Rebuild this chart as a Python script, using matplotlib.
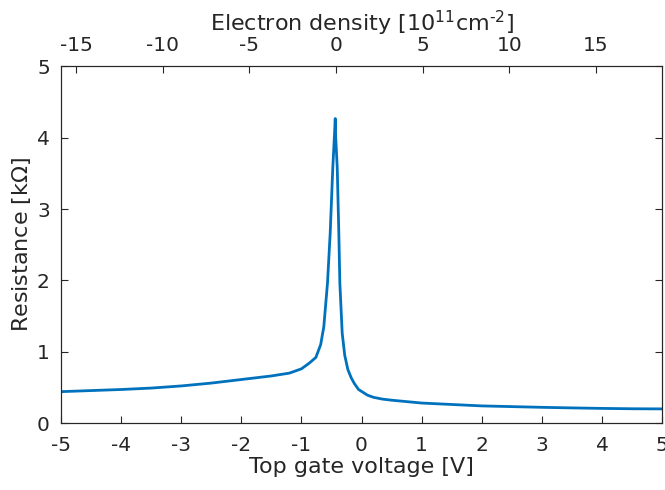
import numpy as np
import matplotlib
matplotlib.use("Agg")
import matplotlib.pyplot as plt

# Data
gate_v = [-5, -4.5, -4, -3.5, -3, -2.5, -2, -1.5, -1.2, -1.0, -0.87, -0.76, -0.68,
          -0.628, -0.567, -0.522, -0.478, -0.45, -0.438, -0.43, -0.405, -0.378,
          -0.361, -0.322, -0.28, -0.228, -0.17, -0.117, -0.05, 0.1, 0.2, 0.35, 0.5,
          0.75, 1, 1.5, 2, 2.5, 3, 3.5, 4, 4.5, 5]
resistance = [0.44, 0.455, 0.47, 0.49, 0.52, 0.56, 0.61, 0.66, 0.70, 0.76, 0.84, 0.92, 1.1,
              1.35, 1.96, 2.66, 3.59, 4.05, 4.27, 4.0, 3.59, 2.66,
              1.96, 1.26, 0.95, 0.75, 0.63, 0.55, 0.47, 0.39, 0.36, 0.335, 0.32,
              0.30, 0.28, 0.26, 0.24, 0.23, 0.22, 0.212, 0.205, 0.2, 0.198]
density_ticks = [-15, -10, -5, 0, 5, 10, 15]
density_lim = (-15.88, 18.82)

gray = '#262626'
plt.rcParams['font.family'] = 'DejaVu Sans'
plt.rcParams['mathtext.default'] = 'regular'
plt.rcParams['axes.unicode_minus'] = False
plt.rcParams['font.size'] = 14

fig = plt.figure(figsize=(6.65, 4.9), dpi=100)
ax = fig.add_axes([0.0917, 0.1367, 0.904, 0.7276])
ax.plot(gate_v, resistance, color='#0072BD', lw=2)
ax.set_xlim(-5, 5)
ax.set_ylim(0, 5)
ax.set_xticks(range(-5, 6))
ax.set_yticks(range(0, 6))
ax.set_xlabel('Top gate voltage [V]', color=gray, fontsize=16, labelpad=2)
ax.set_ylabel('Resistance [k$\\Omega$]', color=gray, fontsize=16, labelpad=3)
ax.tick_params(direction='in', colors=gray, labelsize=14.5, length=5, width=0.8,
               right=True)
ax.tick_params(axis='x', pad=9)
ax.tick_params(axis='y', pad=8)
for s in ax.spines.values():
    s.set_color(gray)
    s.set_linewidth(0.8)

ax2 = ax.twiny()
ax2.set_xlim(*density_lim)
ax2.set_xticks(density_ticks)
ax2.set_xlabel('Electron density [10$^{11}$cm$^{\\text{-}2}$]', color=gray, fontsize=16, labelpad=4)
ax2.tick_params(direction='in', colors=gray, labelsize=14.5, length=5, width=0.8, pad=8)
for s in ax2.spines.values():
    s.set_color(gray)
    s.set_linewidth(0.8)

fig.savefig('out.png', dpi=100)
